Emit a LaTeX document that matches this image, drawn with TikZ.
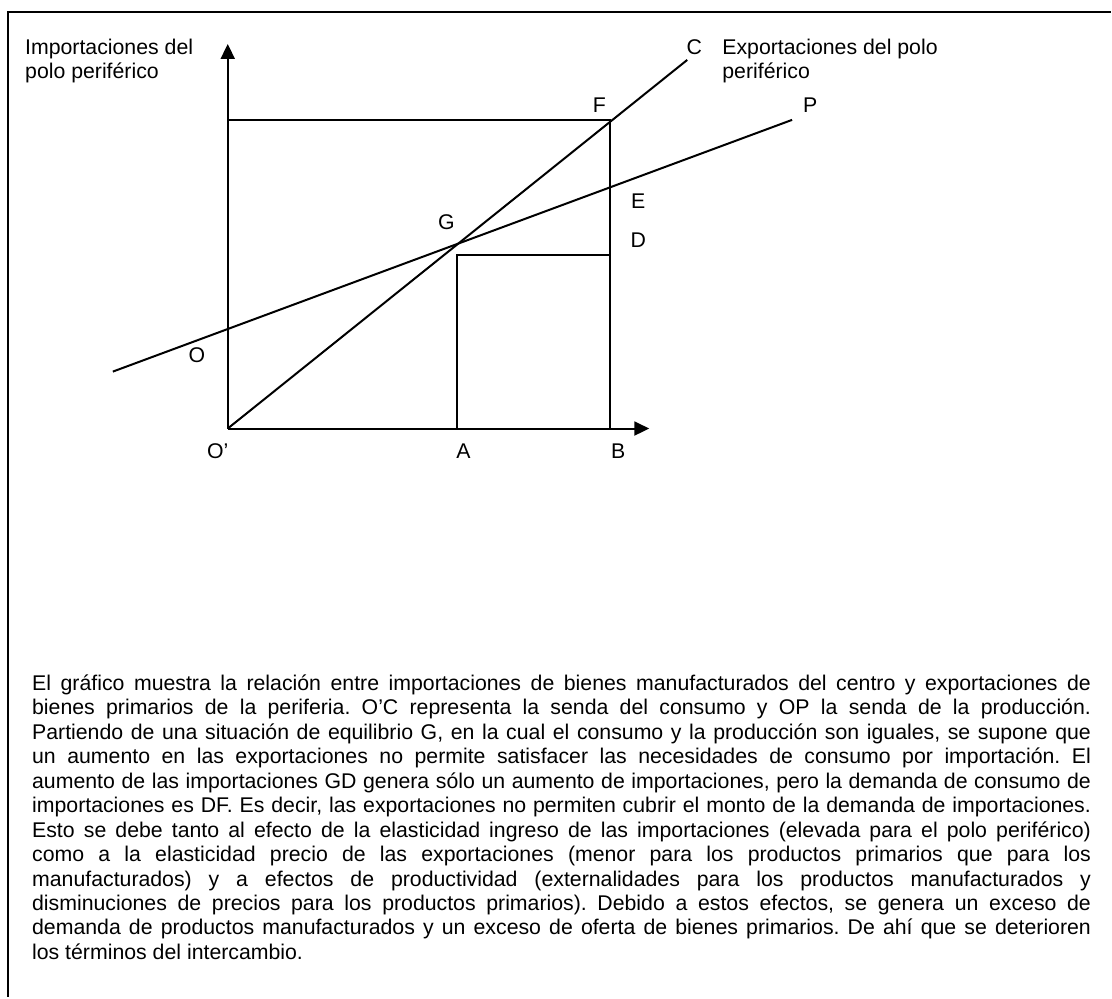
\documentclass[tikz,border=0pt]{standalone}
\usepackage{fontspec}
\setmainfont{Liberation Sans}
\usetikzlibrary{arrows.meta}
\tolerance=10000
\hyphenpenalty=10000
\frenchspacing

\tikzset{
  eje/.style={line width=2pt, -{Triangle[length=15pt,width=14pt]}},
  seg/.style={line width=2pt},
  lbl/.style={inner sep=0pt, font=\fontsize{21.3}{24.5}\selectfont},
}

\begin{document}
\begin{tikzpicture}[x=1pt, y=-1pt]
        % Page and the two frame edges
        \path[fill=white] (0,0) rectangle (1112,998);
        \draw[line width=2.5pt] (8,998) -- (8,12) -- (1112,12);

        % Points of the diagram
        \coordinate (Op) at (228,429);
        \coordinate (ytip) at (228,44);
        \coordinate (xtip) at (650,429);
        \coordinate (ytop) at (228,120);
        \coordinate (Fp) at (611,120);
        \coordinate (Bp) at (611,429);
        \coordinate (Ap) at (458,429);
        \coordinate (Aup) at (458,255);
        \coordinate (Dp) at (611,255);
        \coordinate (Cp) at (688,60);
        \coordinate (Os) at (113,372);
        \coordinate (Pp) at (793,120);

        % Draw the axes
        \draw[eje] (Op) -- (ytip);
        \draw[eje] (Op) -- (xtip);

        % Draw the rectangles
        \draw[seg] (ytop) -- (Fp) -- (Bp);
        \draw[seg] (Ap) -- (Aup) -- (Dp);

        % Consumption path O'C and production path OP
        \draw[seg] (Op) -- (Cp);
        \draw[seg] (Os) -- (Pp);

        % Point labels
        \node[lbl] (lO) at (197,356) {O};
        \node[lbl] (lOp) at (218,452) {O’};
        \node[lbl] (lA) at (464,452) {A};
        \node[lbl] (lB) at (619,452) {B};
        \node[lbl] (lG) at (447,222) {G};
        \node[lbl] (lE) at (639,201) {E};
        \node[lbl] (lD) at (639,240) {D};
        \node[lbl] (lF) at (600,105) {F};
        \node[lbl] (lP) at (811,105) {P};
        \node[lbl] (lC) at (695,47) {C};

        % Axis titles (base = last line)
        \node[lbl, anchor=base west, align=left] (limp) at (25,79) {Importaciones del\\polo periférico};
        \node[lbl, anchor=base west, align=left] (lexp) at (723,79) {Exportaciones del polo\\periférico};

        % Explanation under the diagram
        \node[lbl, anchor=base west, text width=1060pt, align=justify] (texto) at (32,691) {El gráfico muestra la relación entre importaciones de bienes manufacturados del centro y exportaciones de\linebreak
bienes primarios de la periferia. O’C representa la senda del consumo y OP la senda de la producción.\linebreak
Partiendo de una situación de equilibrio G, en la cual el consumo y la producción son iguales, se supone que\linebreak
un aumento en las exportaciones no permite satisfacer las necesidades de consumo por importación. El\linebreak
aumento de las importaciones GD genera sólo un aumento de importaciones, pero la demanda de consumo de\linebreak
importaciones es DF. Es decir, las exportaciones no permiten cubrir el monto de la demanda de importaciones.\linebreak
Esto se debe tanto al efecto de la elasticidad ingreso de las importaciones (elevada para el polo periférico)\linebreak
como a la elasticidad precio de las exportaciones (menor para los productos primarios que para los\linebreak
manufacturados) y a efectos de productividad (externalidades para los productos manufacturados y\linebreak
disminuciones de precios para los productos primarios). Debido a estos efectos, se genera un exceso de\linebreak
demanda de productos manufacturados y un exceso de oferta de bienes primarios. De ahí que se deterioren\linebreak
los términos del intercambio.};
\end{tikzpicture}
\end{document}
